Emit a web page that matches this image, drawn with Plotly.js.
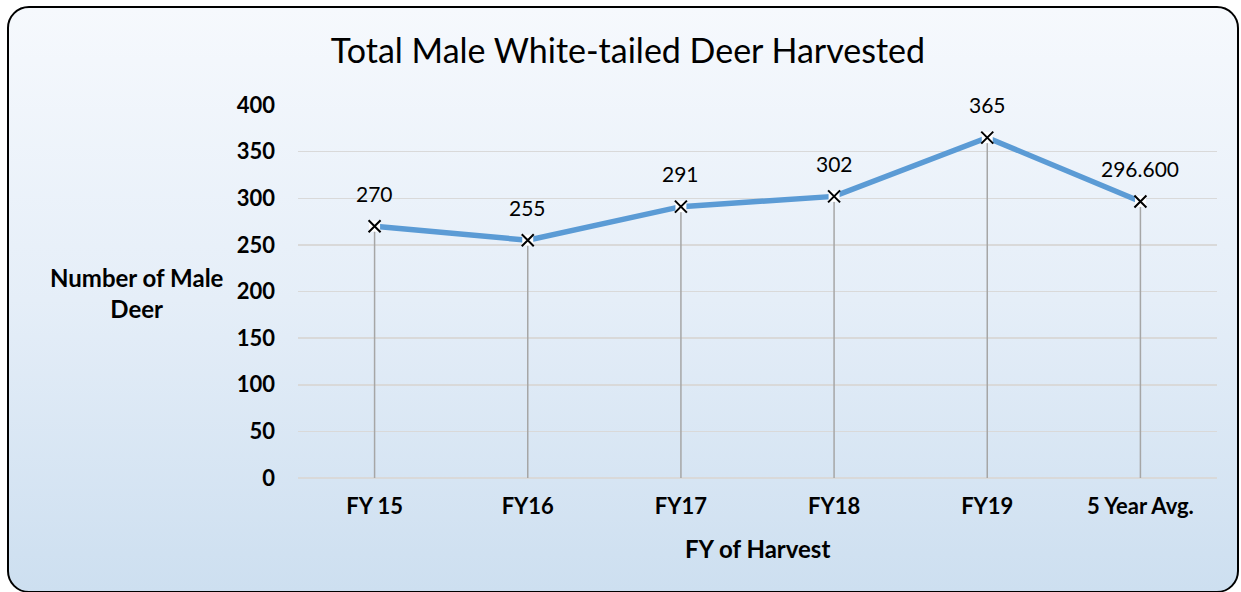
<!DOCTYPE html>
<html>
<head>
<meta charset="utf-8">
<script src="https://cdn.plot.ly/plotly-3.0.1.min.js"></script>
<style>
  html, body { margin: 0; padding: 0; width: 1241px; height: 592px; overflow: hidden; background: #ffffff; }
  #frame { position: absolute; left: 7px; top: 6px; width: 1228px; height: 583px;
           border: 2px solid #000; border-radius: 22px;
           background: linear-gradient(to bottom, #f6f9fd 0%, #e5eef8 50%, #cddff0 100%); }
  #chart { position: absolute; left: 0; top: 0; width: 1241px; height: 592px; }
</style>
</head>
<body>
<div id="frame"></div>
<div id="chart"></div>
<script>
const categories = ["FY 15", "FY16", "FY17", "FY18", "FY19", "5 Year Avg."];
const maleDeer = [270, 255, 291, 302, 365, 296.6];
const valueLabels = ["270", "255", "291", "302", "365", "296.600"];
const yTicks = [0, 50, 100, 150, 200, 250, 300, 350, 400];

const FONT = "Lato, 'Open Sans', 'Liberation Sans', sans-serif";

const dropLines = {
  x: categories, y: maleDeer, type: "scatter", mode: "markers",
  marker: { size: 1, color: "rgba(0,0,0,0)" },
  error_y: { type: "data", symmetric: false, array: maleDeer.map(() => 0),
             arrayminus: maleDeer, width: 0, thickness: 1.5, color: "#a6a6a6" },
  hoverinfo: "skip", showlegend: false
};
const line = {
  x: categories, y: maleDeer, type: "scatter", mode: "lines",
  line: { color: "#5b9bd5", width: 5.5 }, showlegend: false
};
const markerBg = {
  x: categories, y: maleDeer, type: "scatter", mode: "markers",
  marker: { symbol: "square", size: 11, color: "#ffffff" }, showlegend: false, hoverinfo: "skip"
};
const markers = {
  x: categories, y: maleDeer, type: "scatter", mode: "markers",
  marker: { symbol: "x-thin-open", size: 12, color: "#000", line: { color: "#000", width: 2 } },
  showlegend: false
};

const annotations = categories.map((c, i) => ({
  x: c, y: maleDeer[i], xref: "x", yref: "y", text: valueLabels[i], showarrow: false,
  yshift: 33, font: { family: FONT, size: 21, color: "#000" }
}));
annotations.push({
  xref: "paper", yref: "paper", x: -0.175, y: 0.496, xanchor: "center", yanchor: "middle",
  text: "<b>Number of Male<br>Deer</b>",
  showarrow: false, align: "center", font: { family: FONT, size: 24, color: "#000" }
});
annotations.push({
  xref: "paper", yref: "paper", x: 0.5, y: -0.188, xanchor: "center", yanchor: "middle",
  text: "<b>FY of Harvest</b>",
  showarrow: false, font: { family: FONT, size: 24, color: "#000" }
});

const layout = {
  width: 1241, height: 592,
  paper_bgcolor: "rgba(0,0,0,0)", plot_bgcolor: "rgba(0,0,0,0)",
  margin: { l: 298, r: 24, t: 105, b: 114 },
  title: { text: "Total Male White-tailed Deer Harvested", x: 0.506, xref: "container",
           y: 1 - 51 / 592, yref: "container", yanchor: "middle", xanchor: "center",
           font: { family: FONT, size: 34, color: "#000" } },
  xaxis: { type: "category", range: [-0.5, 5.5], showgrid: false, zeroline: false, showline: false,
           ticks: "", ticklabelstandoff: 13,
           tickfont: { family: FONT, size: 22, color: "#000", weight: "bold" } },
  yaxis: { range: [0, 400], tickvals: yTicks, ticktext: yTicks.map(String),
           showgrid: true, gridcolor: "#d9d9d9", gridwidth: 1.5, zeroline: true,
           zerolinecolor: "#d9d9d9", zerolinewidth: 1.5, showline: false, ticks: "",
           ticklabelstandoff: 22,
           tickfont: { family: FONT, size: 22, color: "#000", weight: "bold" } },
  annotations: annotations,
  showlegend: false
};

Plotly.newPlot("chart", [dropLines, line, markerBg, markers], layout, { displayModeBar: false, staticPlot: true });
</script>
</body>
</html>
